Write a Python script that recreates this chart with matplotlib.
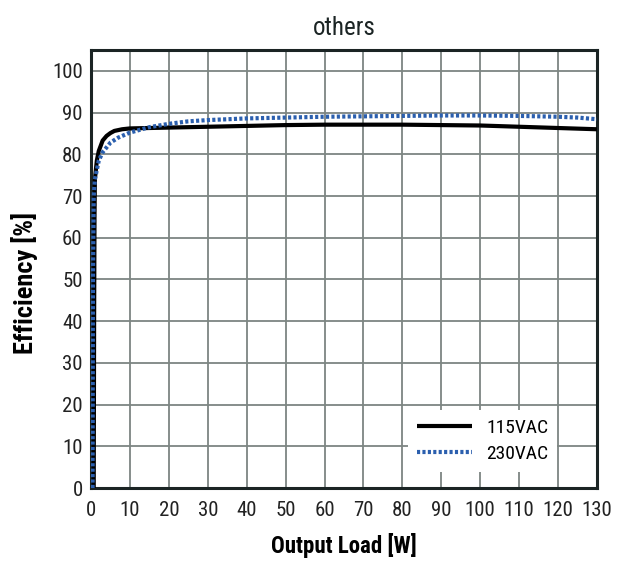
import numpy as np
import matplotlib
matplotlib.use('Agg')
import matplotlib.pyplot as plt

plt.rcParams['font.family'] = ['Roboto Condensed', 'Archivo Narrow', 'DejaVu Sans']

# efficiency curves
load_115 = [0.7, 0.8, 0.9, 1.0, 1.5, 2, 3, 4, 5, 6, 8, 10, 15, 20, 30, 40,
            50, 60, 70, 80, 90, 100, 110, 120, 130]
eff_115 = [0, 40, 65, 74, 78.5, 80.8, 83.3, 84.4, 85.1, 85.6, 86.0, 86.2,
           86.3, 86.4, 86.6, 86.8, 87.0, 87.1, 87.1, 87.1, 87.0, 86.9, 86.6,
           86.3, 86.0]

load_230 = [0.4, 0.5, 0.7, 1, 2, 3, 5, 7, 10, 15, 20, 25, 30, 40, 50, 60,
            70, 80, 90, 100, 110, 120, 125, 130]
eff_230 = [0, 50, 70, 74, 78.5, 80.5, 82.8, 84, 85.2, 86.5, 87.3, 87.9, 88.2,
           88.6, 88.8, 89.0, 89.1, 89.2, 89.3, 89.3, 89.2, 89.0, 88.8, 88.4]

xticks = np.arange(0, 131, 10)
yticks = np.arange(0, 101, 10)

fig = plt.figure(figsize=(6.26, 5.61), dpi=100)
ax = fig.add_axes([91/626, 1 - 488/561, (597-91)/626, (488-50)/561])

ax.plot(load_115, eff_115, color='black', lw=3, label='115VAC',
        solid_capstyle='butt', zorder=3)
ax.plot(load_230, eff_230, color='#2b5fae', lw=3, ls=(0, (0.75, 0.55)),
        label='230VAC', zorder=3)

ax.set_xlim(0, 130)
ax.set_ylim(0, 105)
ax.set_xticks(xticks)
ax.set_yticks(yticks)
ax.tick_params(length=0, labelsize=15, colors='#222222')
ax.tick_params(axis='x', pad=9)
ax.tick_params(axis='y', pad=6)
ax.grid(True, color='#7d8582', lw=1.3)
ax.set_axisbelow(True)
for sp in ax.spines.values():
    sp.set_linewidth(2.2)
    sp.set_color('#1b2424')

ax.set_title('others', fontsize=18, color='#1b2424', pad=11)
ax.set_xlabel('Output Load [W]', fontsize=16.5, fontweight='bold', labelpad=10)
ax.set_ylabel('Efficiency [%]', fontsize=19, fontweight='bold')
ax.yaxis.set_label_coords(-0.105, 0.468)

leg = ax.legend(loc='lower right', bbox_to_anchor=(0.941, 0.015), frameon=True,
                fontsize=14, handlelength=2.85, handletextpad=0.75,
                borderpad=0.45, labelspacing=0.4, fancybox=False)
leg.get_frame().set_edgecolor('white')
leg.get_frame().set_facecolor('white')
leg.get_frame().set_alpha(1)
leg.get_frame().set_linewidth(0)

plt.savefig('out.png', dpi=100)
